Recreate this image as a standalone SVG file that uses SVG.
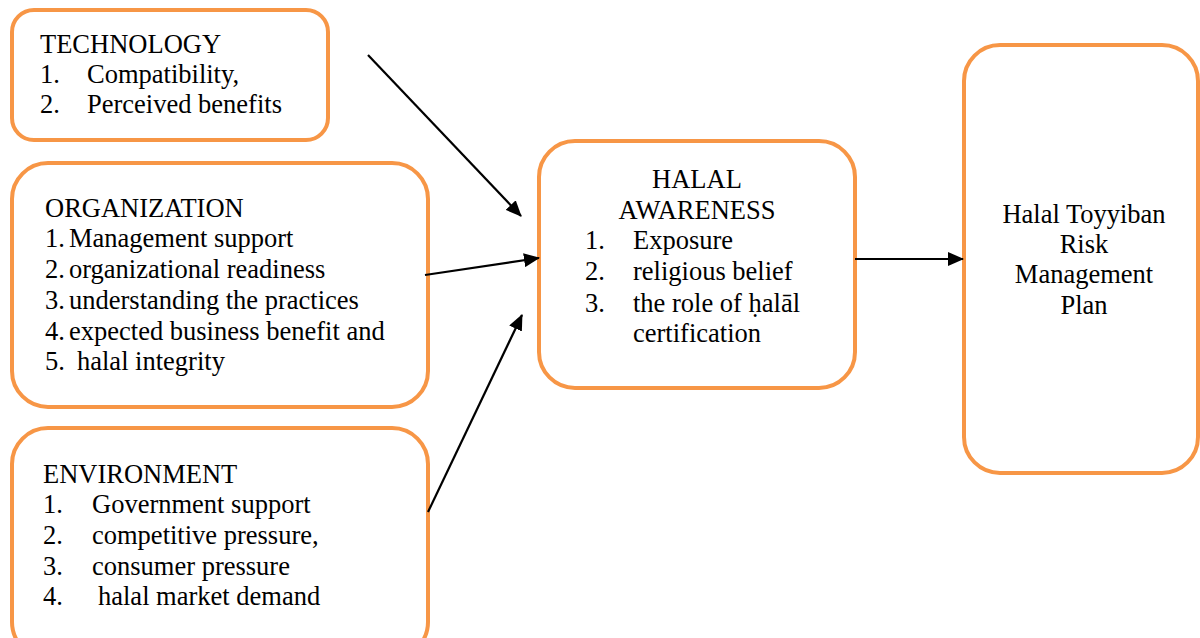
<svg xmlns="http://www.w3.org/2000/svg" width="1200" height="638" viewBox="0 0 1200 638">
<style>
.box{fill:#fff;stroke:#F79646;stroke-width:4}
text{font-family:"Liberation Serif","Times New Roman",serif;font-size:26.5px;fill:#000}
.c{text-anchor:middle}
.conn{stroke:#000;stroke-width:2.2;fill:none}
</style>
<defs>
<marker id="ah" markerWidth="16" markerHeight="14" refX="15" refY="7" orient="auto" markerUnits="userSpaceOnUse">
<path d="M0,0 L16,7 L0,14 z" fill="#000"/>
</marker>
</defs>
<rect width="1200" height="638" fill="#fff"/>
<g id="technology">
<rect class="box" x="12" y="10" width="316" height="130" rx="22"/>
<text x="40" y="53">TECHNOLOGY</text>
<text x="40" y="83">1.</text><text x="87" y="83">Compatibility,</text>
<text x="40" y="113">2.</text><text x="87" y="113">Perceived benefits</text>
</g>
<g id="organization">
<rect class="box" x="12" y="163" width="416" height="244" rx="36"/>
<text x="45" y="217">ORGANIZATION</text>
<text x="45" y="247">1.</text><text x="69" y="247">Management support</text>
<text x="45" y="278">2.</text><text x="69" y="278">organizational readiness</text>
<text x="45" y="309">3.</text><text x="69" y="309">understanding the practices</text>
<text x="45" y="340">4.</text><text x="69" y="340">expected business benefit and</text>
<text x="45" y="370">5.</text><text x="77" y="370">halal integrity</text>
</g>
<g id="environment">
<rect class="box" x="12" y="428" width="416" height="230" rx="36"/>
<text x="43" y="483">ENVIRONMENT</text>
<text x="43" y="513">1.</text><text x="92" y="513">Government support</text>
<text x="43" y="544">2.</text><text x="92" y="544">competitive pressure,</text>
<text x="43" y="575">3.</text><text x="92" y="575">consumer pressure</text>
<text x="43" y="605">4.</text><text x="98" y="605">halal market demand</text>
</g>
<g id="halal-awareness">
<rect class="box" x="539" y="141" width="316" height="247" rx="36"/>
<text class="c" x="697" y="188">HALAL</text>
<text class="c" x="697" y="219">AWARENESS</text>
<text x="585" y="249">1.</text><text x="633" y="249">Exposure</text>
<text x="585" y="280">2.</text><text x="633" y="280">religious belief</text>
<text x="585" y="312">3.</text><text x="633" y="312">the role of ḥalāl</text>
<text x="633" y="342">certification</text>
</g>
<g id="risk-plan">
<rect class="box" x="964" y="45" width="234" height="428" rx="36"/>
<text class="c" x="1084" y="223">Halal Toyyiban</text>
<text class="c" x="1084" y="253">Risk</text>
<text class="c" x="1084" y="283">Management</text>
<text class="c" x="1084" y="314">Plan</text>
</g>
<g id="connectors">
<line class="conn" x1="368" y1="55" x2="521" y2="216" marker-end="url(#ah)"/>
<line class="conn" x1="425" y1="275" x2="539" y2="258" marker-end="url(#ah)"/>
<line class="conn" x1="428" y1="512" x2="522" y2="315" marker-end="url(#ah)"/>
<line class="conn" x1="855" y1="259" x2="963" y2="259" marker-end="url(#ah)"/>
</g>
</svg>
